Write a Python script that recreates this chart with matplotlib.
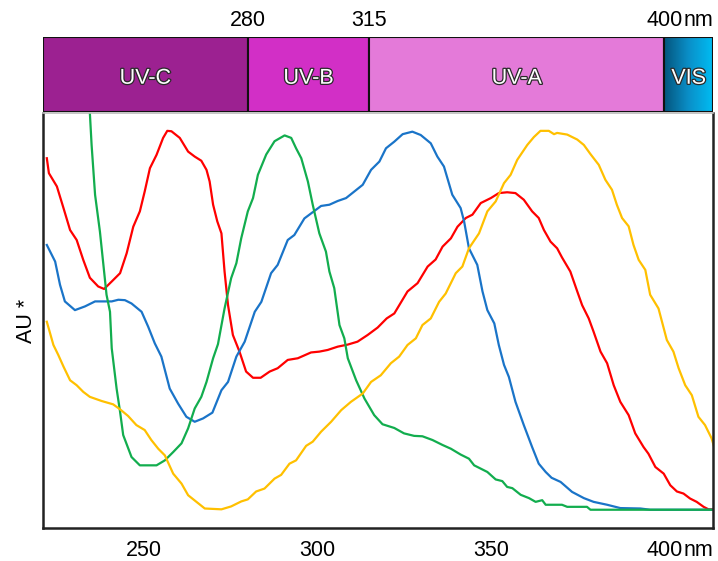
import numpy as np
import matplotlib
matplotlib.use("Agg")
import matplotlib.pyplot as plt
import matplotlib.patheffects as pe
from matplotlib.colors import LinearSegmentedColormap
from matplotlib.patches import Rectangle

plt.rcParams['font.family'] = ['Liberation Sans', 'DejaVu Sans']

# spectral bands (nm)
band_names = ["UV-C", "UV-B", "UV-A", "VIS"]
band_edges = [221, 280, 315, 400, 414]
band_colors = ["#9c2191", "#d22fc6", "#e47ad9", None]
top_ticks = [280, 315, 400]
bottom_ticks = [250, 300, 350, 400]

# absorbance curves (arbitrary units)
red_nm = [222.1, 222.7, 225.0, 226.9, 228.8, 230.7, 232.6, 234.5, 236.9, 238.6, 240.8, 243.2,
          245.1, 247.0, 248.9, 250.3, 251.8, 253.7, 255.6, 256.8, 258.0, 260.4, 262.8, 264.7,
          266.6, 268.1, 269.0, 270.0, 271.2, 272.4, 273.3, 274.3, 275.7, 277.6, 279.5, 281.5,
          283.7, 286.3, 288.6, 291.5, 294.4, 298.2, 300.6, 303.0, 305.9, 308.8, 311.6, 314.5,
          317.4, 320.0, 322.2, 326.0, 328.9, 331.8, 334.1, 336.1, 338.5, 340.4, 342.8, 344.7,
          347.1, 350.0, 352.3, 354.7, 357.1, 359.5, 361.9, 363.8, 365.3, 367.2, 369.1, 370.5,
          372.9, 374.9, 376.3, 378.2, 379.6, 381.6, 383.5, 385.4, 387.3, 389.7, 391.6, 394.0,
          395.4, 397.4, 399.8, 401.7, 403.6, 405.5, 407.4, 409.3, 411.3, 412.7, 414.1]
red_au = [0.891, 0.855, 0.823, 0.771, 0.718, 0.694, 0.646, 0.603, 0.582, 0.576, 0.594, 0.614,
          0.662, 0.726, 0.763, 0.811, 0.867, 0.899, 0.940, 0.957, 0.956, 0.940, 0.907, 0.895,
          0.885, 0.863, 0.835, 0.779, 0.739, 0.710, 0.618, 0.537, 0.465, 0.425, 0.377, 0.362,
          0.362, 0.377, 0.385, 0.405, 0.409, 0.423, 0.425, 0.429, 0.437, 0.442, 0.449, 0.465,
          0.483, 0.505, 0.517, 0.570, 0.590, 0.630, 0.647, 0.678, 0.698, 0.726, 0.747, 0.755,
          0.783, 0.795, 0.807, 0.809, 0.807, 0.791, 0.763, 0.747, 0.718, 0.690, 0.674, 0.652,
          0.618, 0.570, 0.537, 0.505, 0.473, 0.425, 0.397, 0.344, 0.304, 0.272, 0.228, 0.195,
          0.179, 0.147, 0.131, 0.103, 0.088, 0.083, 0.071, 0.063, 0.051, 0.045, 0.045]

blue_nm = [222.1, 224.5, 225.9, 227.3, 230.2, 233.1, 236.0, 240.8, 242.7, 244.6, 246.5, 249.4,
           251.3, 253.2, 255.1, 257.5, 259.9, 262.3, 264.7, 267.1, 269.8, 272.4, 274.3, 276.7,
           279.1, 282.0, 283.9, 286.7, 288.6, 291.5, 293.4, 296.3, 298.7, 301.1, 303.5, 305.9,
           308.3, 310.7, 313.1, 315.5, 317.9, 319.8, 322.2, 324.6, 327.4, 329.8, 332.7, 334.6,
           336.5, 338.9, 341.3, 342.3, 343.7, 346.1, 347.6, 349.0, 351.0, 352.3, 353.8, 355.2,
           357.1, 359.5, 361.9, 363.8, 365.8, 367.5, 370.1, 373.4, 376.8, 379.6, 383.5, 387.3,
           393.1, 395.9, 414.1]
blue_au = [0.682, 0.642, 0.586, 0.546, 0.525, 0.534, 0.546, 0.546, 0.550, 0.549, 0.541, 0.521,
           0.485, 0.445, 0.413, 0.336, 0.300, 0.268, 0.256, 0.264, 0.278, 0.332, 0.352, 0.413,
           0.449, 0.521, 0.545, 0.614, 0.634, 0.694, 0.706, 0.746, 0.761, 0.776, 0.779, 0.788,
           0.795, 0.811, 0.827, 0.863, 0.883, 0.915, 0.931, 0.949, 0.955, 0.947, 0.927, 0.895,
           0.871, 0.803, 0.771, 0.739, 0.674, 0.634, 0.570, 0.525, 0.493, 0.441, 0.393, 0.364,
           0.304, 0.248, 0.195, 0.155, 0.135, 0.121, 0.111, 0.087, 0.072, 0.063, 0.056, 0.048,
           0.047, 0.044, 0.044]

green_nm = [233.6, 234.5, 235.0, 236.0, 237.4, 238.4, 239.3, 240.3, 240.8, 242.2, 243.2, 244.1,
            246.5, 248.9, 253.7, 256.1, 258.5, 260.9, 262.8, 264.7, 266.6, 268.1, 270.0, 271.4,
            273.3, 275.2, 276.7, 278.1, 280.0, 281.5, 282.9, 285.3, 287.7, 290.6, 292.5, 293.9,
            295.4, 297.3, 298.7, 300.6, 302.5, 303.5, 304.9, 306.4, 307.8, 308.8, 311.2, 313.6,
            316.4, 318.8, 322.2, 325.0, 327.9, 330.3, 333.2, 336.1, 338.5, 341.3, 343.7, 345.2,
            349.0, 351.4, 353.3, 354.7, 356.2, 358.6, 361.0, 362.9, 364.8, 365.8, 370.5, 372.0,
            377.7, 378.7, 414.1]
green_au = [1.08, 1.000, 0.923, 0.803, 0.714, 0.634, 0.562, 0.521, 0.433, 0.336, 0.280, 0.224,
            0.171, 0.151, 0.151, 0.163, 0.183, 0.204, 0.240, 0.288, 0.316, 0.352, 0.409, 0.443,
            0.529, 0.602, 0.638, 0.698, 0.763, 0.795, 0.851, 0.900, 0.932, 0.946, 0.940, 0.915,
            0.891, 0.835, 0.779, 0.710, 0.666, 0.618, 0.578, 0.489, 0.457, 0.409, 0.356, 0.312,
            0.272, 0.250, 0.241, 0.228, 0.222, 0.221, 0.212, 0.200, 0.191, 0.177, 0.167, 0.151,
            0.135, 0.117, 0.113, 0.099, 0.096, 0.080, 0.072, 0.063, 0.067, 0.056, 0.056, 0.051,
            0.051, 0.044, 0.044]

yellow_nm = [222.1, 224.0, 225.4, 226.9, 228.8, 230.7, 232.6, 234.5, 237.9, 241.2, 243.2, 245.5,
             247.9, 250.3, 252.2, 254.2, 256.1, 258.5, 260.9, 262.8, 265.2, 267.6, 272.4, 275.2,
             278.1, 280.0, 282.4, 284.8, 287.7, 289.6, 292.0, 293.9, 296.8, 298.7, 301.1, 304.0,
             306.9, 309.7, 313.1, 315.5, 318.3, 321.2, 323.6, 326.0, 328.4, 330.3, 332.7, 335.1,
             337.0, 339.9, 341.8, 343.7, 346.6, 349.0, 351.4, 353.8, 355.7, 357.6, 360.5, 362.4,
             364.3, 366.7, 368.2, 369.1, 372.0, 374.9, 376.8, 378.7, 381.1, 383.0, 384.9, 386.3,
             387.8, 389.7, 391.1, 392.6, 394.5, 395.9, 398.3, 400.7, 402.6, 404.1, 406.0, 407.9,
             409.8, 411.7, 413.6, 414.3]
yellow_au = [0.497, 0.441, 0.417, 0.389, 0.356, 0.344, 0.328, 0.316, 0.306, 0.298, 0.286, 0.270,
             0.248, 0.236, 0.212, 0.191, 0.175, 0.131, 0.107, 0.079, 0.063, 0.047, 0.045, 0.052,
             0.064, 0.069, 0.088, 0.095, 0.119, 0.128, 0.155, 0.163, 0.198, 0.208, 0.232, 0.256,
             0.284, 0.304, 0.324, 0.352, 0.368, 0.397, 0.413, 0.441, 0.457, 0.489, 0.505, 0.545,
             0.565, 0.614, 0.630, 0.674, 0.710, 0.763, 0.787, 0.831, 0.851, 0.887, 0.923, 0.942,
             0.957, 0.957, 0.949, 0.952, 0.948, 0.936, 0.923, 0.901, 0.875, 0.839, 0.815, 0.779,
             0.747, 0.727, 0.682, 0.646, 0.622, 0.562, 0.529, 0.453, 0.425, 0.385, 0.344, 0.320,
             0.268, 0.248, 0.216, 0.196]

series = [
    (red_nm, red_au, "#ff0000"),
    (blue_nm, blue_au, "#1a74c8"),
    (green_nm, green_au, "#12ad4e"),
    (yellow_nm, yellow_au, "#ffc000"),
]

xlim = (band_edges[0], band_edges[-1])

fig = plt.figure(figsize=(7.18, 5.61), dpi=100)

# main plot
ax = fig.add_axes([43 / 718, 33 / 561, 670 / 718, 415 / 561])
for nm, au, c in series:
    ax.plot(nm, au, color=c, lw=1.6)
ax.set_xlim(*xlim)
ax.set_ylim(0, 1)
ax.set_yticks([])
ax.set_xticks(bottom_ticks)
ax.set_xticklabels([str(t) for t in bottom_ticks])
ax.tick_params(axis='x', length=0, labelsize=15.5, pad=9)
ax.annotate("nm", xy=(bottom_ticks[-1], 0), xycoords=('data', 'axes fraction'),
            xytext=(14, -9), textcoords='offset points', ha='left', va='top', fontsize=15.5)
ax.set_ylabel("AU *", fontsize=15.5, labelpad=4)
for side in ['left', 'bottom', 'right']:
    ax.spines[side].set_linewidth(1.8)
    ax.spines[side].set_color('#222222')
ax.spines['top'].set_color('#bbbbbb')
ax.spines['top'].set_linewidth(1.2)

# spectral band strip
bx = fig.add_axes([43 / 718, 449 / 561, 670 / 718, 75 / 561])
bx.set_xlim(*xlim)
bx.set_ylim(0, 1)
for i, name in enumerate(band_names):
    x0, x1 = band_edges[i], band_edges[i + 1]
    if band_colors[i] is not None:
        bx.add_patch(Rectangle((x0, 0), x1 - x0, 1, facecolor=band_colors[i],
                               edgecolor='#111111', lw=1.5, zorder=1))
    else:
        cmap = LinearSegmentedColormap.from_list("vis", ["#04557d", "#0a8fc8", "#00bcf2"])
        grad = np.linspace(0, 1, 100).reshape(1, -1)
        bx.imshow(grad, extent=[x0, x1, 0, 1], aspect='auto', cmap=cmap, zorder=1)
        bx.add_patch(Rectangle((x0, 0), x1 - x0, 1, facecolor='none',
                               edgecolor='#111111', lw=1.5, zorder=2))
    bx.text((x0 + x1) / 2, 0.45, name, ha='center', va='center', fontsize=15.5,
            color='white', zorder=3,
            path_effects=[pe.withStroke(linewidth=1.8, foreground='#2a2a2a')])
bx.set_yticks([])
bx.xaxis.tick_top()
bx.set_xticks(top_ticks)
bx.set_xticklabels([str(t) for t in top_ticks])
bx.tick_params(axis='x', length=0, labelsize=15.5, pad=4)
bx.annotate("nm", xy=(top_ticks[-1], 1), xycoords=('data', 'axes fraction'),
            xytext=(14, 4), textcoords='offset points', ha='left', va='bottom', fontsize=15.5)
for s in bx.spines.values():
    s.set_visible(False)

fig.savefig("out.png", dpi=100)
